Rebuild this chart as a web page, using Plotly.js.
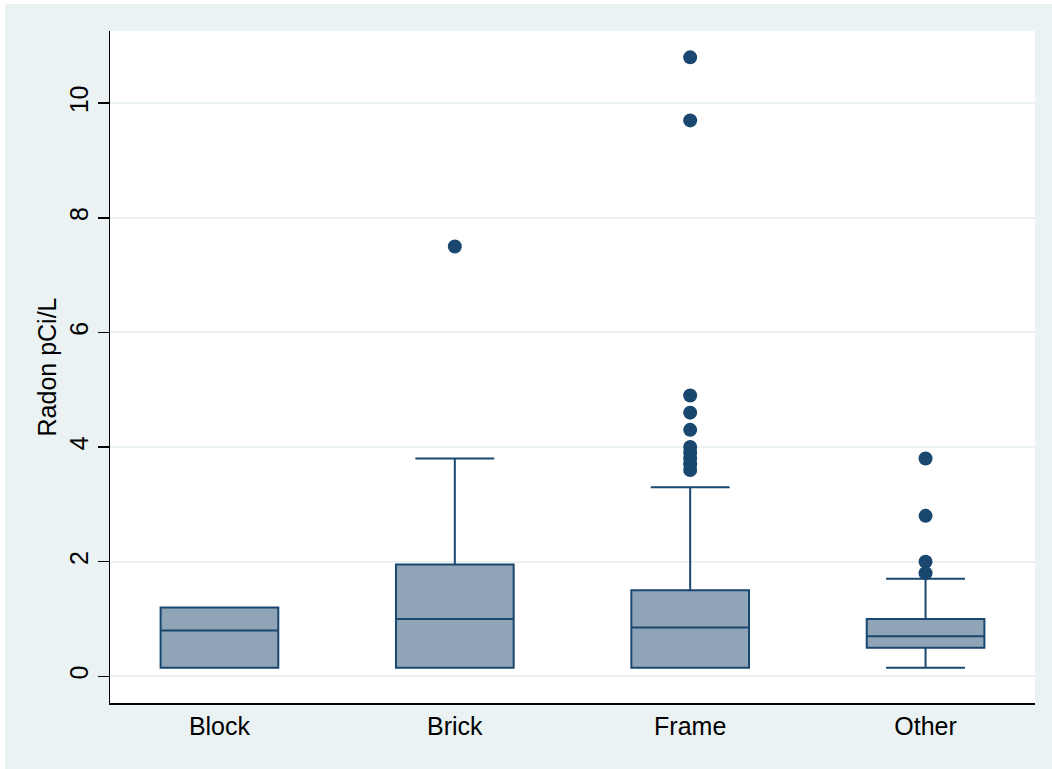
<!DOCTYPE html>
<html>
<head>
<meta charset="utf-8">
<script src="https://cdn.plot.ly/plotly-3.0.1.min.js"></script>
<style>
  html, body { margin: 0; padding: 0; background: #ffffff; }
  #chart { position: absolute; left: 5px; top: 4px; width: 1047px; height: 765px; }
</style>
</head>
<body>
<div id="chart"></div>
<script>
// Data
const categories  = ["Block", "Brick", "Frame", "Other"];
const q1          = [0.15, 0.15, 0.15, 0.5];
const medians     = [0.8, 1.0, 0.85, 0.7];
const q3          = [1.2, 1.95, 1.5, 1.0];
const lowerFences = [0.15, 0.15, 0.15, 0.15];
const upperFences = [1.2, 3.8, 3.3, 1.7];

// Outside values (category, value)
const outlierCats   = ["Brick", "Frame", "Frame", "Frame", "Frame", "Frame", "Frame", "Frame", "Frame", "Frame", "Frame",
                       "Other", "Other", "Other", "Other"];
const outlierValues = [7.5, 10.8, 9.7, 4.9, 4.6, 4.3, 4.0, 3.9, 3.8, 3.7, 3.6,
                       3.8, 2.8, 2.0, 1.8];

const yTicks = [0, 2, 4, 6, 8, 10];

const navy = "#1a476f";
const boxFill = "#8fa4b7";
const bg = "#eaf2f3";

const traces = [
  {
    type: "box",
    x: categories,
    q1: q1,
    median: medians,
    q3: q3,
    lowerfence: lowerFences,
    upperfence: upperFences,
    boxpoints: false,
    width: 0.5,
    whiskerwidth: 0.67,
    fillcolor: boxFill,
    line: { color: navy, width: 2 },
    hoverinfo: "skip",
    showlegend: false
  },
  {
    type: "scatter",
    mode: "markers",
    x: outlierCats,
    y: outlierValues,
    marker: { color: navy, size: 14, line: { width: 0 } },
    hoverinfo: "skip",
    showlegend: false
  }
];

const font = { family: "Liberation Sans, Arial, Helvetica, sans-serif", size: 25, color: "#000000" };

const layout = {
  width: 1047,
  height: 765,
  paper_bgcolor: bg,
  plot_bgcolor: "#ffffff",
  margin: { l: 105, r: 17, t: 27, b: 66, pad: 0 },
  font: font,
  showlegend: false,
  xaxis: {
    type: "category",
    categoryorder: "array",
    categoryarray: categories,
    range: [-0.465, 3.465],
    showline: true,
    linecolor: "#000000",
    linewidth: 1.5,
    ticks: "",
    showgrid: false,
    zeroline: false,
    tickfont: font,
    fixedrange: true
  },
  yaxis: {
    range: [-0.466, 11.26],
    tickvals: yTicks,
    ticktext: yTicks.map(String),
    tickangle: -90,
    ticks: "outside",
    ticklen: 11,
    tickwidth: 1.5,
    tickcolor: "#000000",
    showline: true,
    linecolor: "#000000",
    linewidth: 1.5,
    showgrid: true,
    gridcolor: bg,
    gridwidth: 2,
    zeroline: false,
    tickfont: font,
    title: { text: "Radon pCi/L", font: font, standoff: 1 },
    fixedrange: true
  }
};

Plotly.newPlot("chart", traces, layout, { staticPlot: true, displayModeBar: false });
</script>
</body>
</html>
